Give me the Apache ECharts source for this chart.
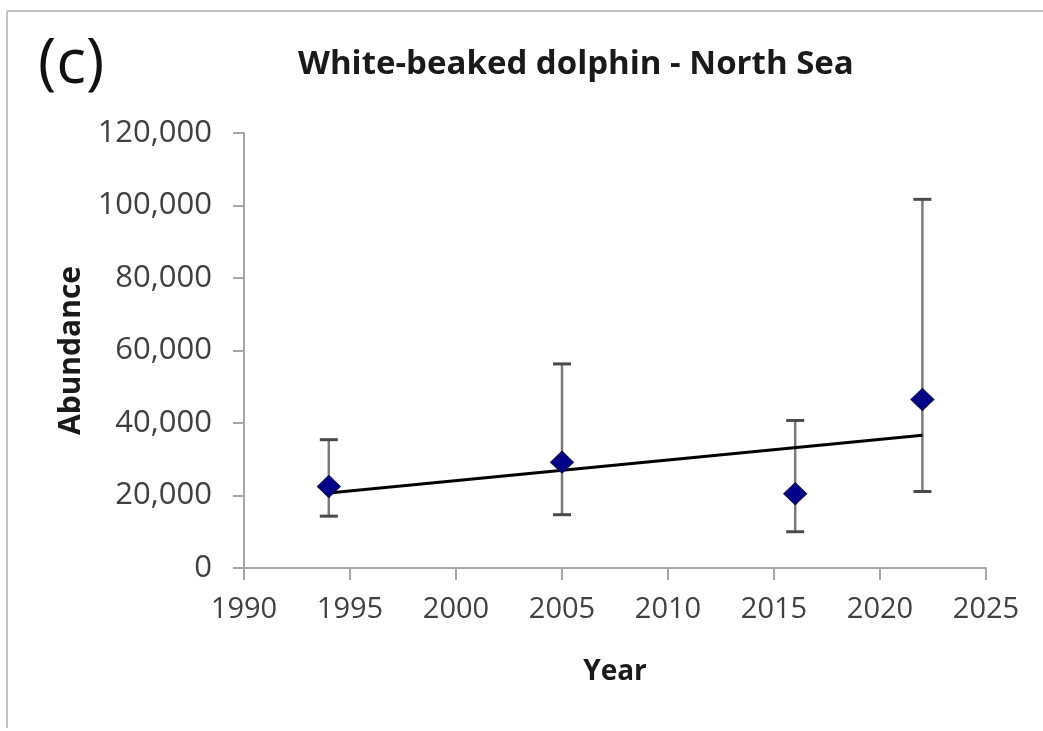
<!DOCTYPE html>
<html>
<head>
<meta charset="utf-8">
<script src="https://cdn.jsdelivr.net/npm/echarts@6/dist/echarts.min.js"></script>
<style>
  html, body { margin: 0; padding: 0; background: #fff; }
  #chart { width: 1043px; height: 731px; }
</style>
</head>
<body>
<div id="chart"></div>
<script>
// survey estimates
const years = [1994, 2005, 2016, 2022];
const abundance = [22500, 29200, 20500, 46500];
const lower = [14300, 14700, 10000, 21100];
const upper = [35400, 56300, 40700, 101700];

// linear trend end points
const trendYears = [1994, 2022];
const trendValues = [20700, 36600];

const yTicks = [0, 20000, 40000, 60000, 80000, 100000, 120000];
const xTicks = [1990, 1995, 2000, 2005, 2010, 2015, 2020, 2025];

const chart = echarts.init(document.getElementById("chart"));
const font = "Open Sans";

const errorData = years.map((y, i) => [y, lower[i], upper[i]]);

const option = {
  backgroundColor: "#fff",
  animation: false,
  textStyle: { fontFamily: font },
  grid: { left: 244, right: 57, top: 133, bottom: 163 },
  graphic: [
    { type: "line", shape: { x1: 7, y1: 11, x2: 1043, y2: 11 }, style: { stroke: "#c4c4c4", lineWidth: 2 } },
    { type: "line", shape: { x1: 7, y1: 11, x2: 7, y2: 728 }, style: { stroke: "#c4c4c4", lineWidth: 2 } },
    {
      type: "text", left: 38, top: 34,
      style: { text: "(c)", font: "normal 62px 'Open Sans'", fill: "#111" }
    },
    {
      type: "text", left: 298, top: 48,
      style: { text: "White-beaked dolphin - North Sea", font: "bold 33px 'Open Sans'", fill: "#1a1a1a" }
    }
  ],
  xAxis: {
    type: "value",
    min: 1990,
    max: 2025,
    interval: 5,
    name: "Year",
    nameLocation: "middle",
    nameGap: 90,
    nameTextStyle: { fontFamily: font, fontWeight: "bold", fontSize: 28, color: "#1a1a1a" },
    axisLine: { lineStyle: { color: "#a6a6a6", width: 2 } },
    axisTick: { show: true, length: 12, lineStyle: { color: "#a6a6a6", width: 2 } },
    axisLabel: {
      fontFamily: font, fontSize: 29, color: "#404040", margin: 27,
      formatter: (v) => xTicks.includes(v) ? String(v) : ""
    },
    splitLine: { show: false }
  },
  yAxis: {
    type: "value",
    min: 0,
    max: 120000,
    interval: 20000,
    name: "Abundance",
    nameLocation: "middle",
    nameGap: 156,
    nameRotate: 90,
    nameTextStyle: { fontFamily: font, fontWeight: "bold", fontSize: 30, color: "#1a1a1a" },
    axisLine: { show: true, lineStyle: { color: "#a6a6a6", width: 2 } },
    axisTick: { show: true, length: 11, lineStyle: { color: "#a6a6a6", width: 2 } },
    axisLabel: {
      fontFamily: font, fontSize: 31, color: "#404040", margin: 32,
      formatter: (v) => yTicks.includes(v) ? v.toLocaleString("en-US") : ""
    },
    splitLine: { show: false }
  },
  series: [
    {
      type: "custom",
      name: "range",
      data: errorData,
      z: 2,
      renderItem: (params, api) => {
        const lo = api.coord([api.value(0), api.value(1)]);
        const hi = api.coord([api.value(0), api.value(2)]);
        const w = 9;
        const style = { stroke: "#7a7a7a", lineWidth: 2.5 };
        return {
          type: "group",
          children: [
            { type: "line", shape: { x1: lo[0], y1: lo[1], x2: hi[0], y2: hi[1] }, style },
            { type: "line", shape: { x1: hi[0] - w, y1: hi[1], x2: hi[0] + w, y2: hi[1] }, style: { stroke: "#4a4a4a", lineWidth: 3 } },
            { type: "line", shape: { x1: lo[0] - w, y1: lo[1], x2: lo[0] + w, y2: lo[1] }, style: { stroke: "#4a4a4a", lineWidth: 3 } }
          ]
        };
      }
    },
    {
      type: "line",
      name: "trend",
      data: trendYears.map((y, i) => [y, trendValues[i]]),
      showSymbol: false,
      symbol: "none",
      lineStyle: { color: "#000", width: 3 },
      z: 3
    },
    {
      type: "scatter",
      name: "abundance",
      data: years.map((y, i) => [y, abundance[i]]),
      symbol: "diamond",
      symbolSize: [23, 22],
      itemStyle: { color: "#000088", opacity: 1, borderColor: "#10104a", borderWidth: 1 },
      z: 4
    }
  ]
};

chart.setOption(option);
</script>
</body>
</html>
